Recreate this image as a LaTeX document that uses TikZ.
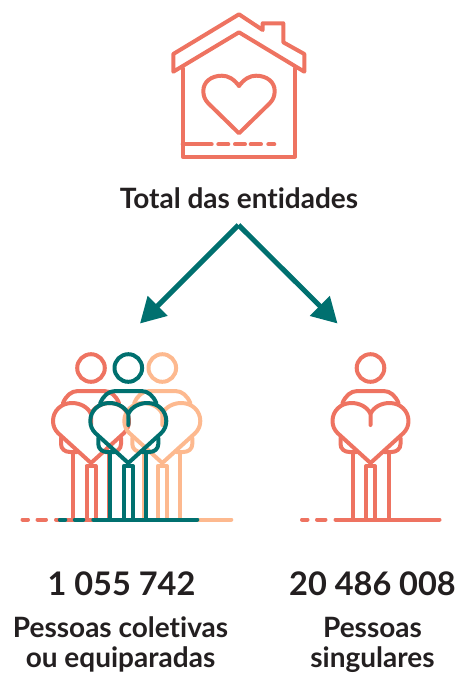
\documentclass[tikz,border=0pt]{standalone}
\usepackage{fontspec}
\setmainfont{Lato}[Ligatures=NoCommon]
\usetikzlibrary{arrows.meta}
\definecolor{salmon}{HTML}{EE7361}
\definecolor{tealdark}{HTML}{00706F}
\definecolor{peach}{HTML}{FDB98F}
\definecolor{inktext}{HTML}{231F20}
\tikzset{
	heartline/.style={line width=4pt,line cap=round,line join=round},
	bigtext/.style={text=inktext,font=\fontsize{32.5}{32.5}\selectfont\bfseries,inner sep=0pt},
	smalltext/.style={text=inktext,font=\fontsize{28}{30}\selectfont\bfseries,inner sep=0pt,align=center},
	arrowline/.style={draw=tealdark,line width=5pt,line cap=square,-{Triangle[length=25pt,width=27pt]}},
	person/.pic={
		\draw[heartline] (0,368) circle[radius=13.8];
		% shoulders
		\draw[heartline] (-28,403) .. controls (-25,396) and (-20,391) .. (-13,391) -- (13,391) .. controls (20,391) and (25,396) .. (28,403);
		% heart
		\draw[heartline] (0,425) -- (0,414) .. controls (-3,407) and (-11,403) .. (-19,403) .. controls (-30,403) and (-38,411) .. (-38,421) .. controls (-38,426) and (-36,430) .. (-33,433) -- (0,463) -- (33,433) .. controls (36,430) and (38,426) .. (38,421) .. controls (38,411) and (30,403) .. (19,403) .. controls (11,403) and (3,407) .. (0,414);
		% hands
		\draw[heartline] (-30,438) -- (-30,444) .. controls (-30,449) and (-26,452) .. (-21,452) -- (-14,452);
		\draw[heartline] (30,438) -- (30,444) .. controls (30,449) and (26,452) .. (21,452) -- (14,452);
		% legs
		\draw[heartline] (-18,452) -- (-18,519.5);
		\draw[heartline] (18,452) -- (18,519.5);
		\draw[heartline] (-4.5,519.5) -- (-4.5,466) -- (4.5,466) -- (4.5,519.5);
		% ground
		\draw[heartline] (-68.5,519.5) -- (-63,519.5);
		\draw[heartline] (-53.5,519.5) -- (-45,519.5);
		\draw[heartline] (-35,519.5) -- (69,519.5);
	}
}
\begin{document}
\begin{tikzpicture}[x=1pt,y=-1pt]
	\useasboundingbox (0,0) rectangle (461,673);
	% house
	\begin{scope}[heartline,draw=salmon]
	\draw (239,14.3) -- (173.3,54) -- (173.3,71.7) -- (239,32.3) -- (304.3,71.7) -- (304.3,54) -- (283.3,42.3) -- (283.3,23.3) -- (262.7,23.3) -- (262.7,30) -- cycle;
	\draw (182.7,68.3) -- (182.7,156.7) -- (295,156.7) -- (295,68.3);
	\draw (239,86) .. controls (234,79) and (228,75.7) .. (222,75.7) .. controls (211,75.7) and (203.3,82) .. (203.3,91) .. controls (203.3,96) and (205,100) .. (208.3,103.3) -- (239,133.3) -- (269.7,103.3) .. controls (273,100) and (274.7,96) .. (274.7,91) .. controls (274.7,82) and (267,75.7) .. (256,75.7) .. controls (250,75.7) and (244,79) .. (239,86);
	\draw (182.7,144.3) -- (211.7,144.3);
	\draw (218.3,144.3) -- (228.3,144.3);
	\draw (235,144.3) -- (245,144.3);
	\draw (250.7,144.3) -- (261,144.3);
	\draw (268.3,144.3) -- (274.3,144.3);
	\end{scope}
	\node[smalltext] (total) at (239,198) {Total das entidades};
	% arrows
	\coordinate (apex) at (238.5,225);
	\coordinate (leftend) at (140,323.5);
	\coordinate (rightend) at (337.5,323.5);
	\draw[arrowline] (apex) -- (leftend);
	\draw[arrowline] (apex) -- (rightend);
	% people
	\pic[salmon] at (91,0) {person};
	\pic[peach] at (162.3,0) {person};
	\pic[tealdark] at (128.3,0) {person};
	\pic[salmon] at (370.5,0) {person};
	% figures
	\node[bigtext] (numcol) at (121.5,584) {1 055 742};
	\node[bigtext] (numsing) at (372.5,584) {20 486 008};
	\node[smalltext,anchor=base] (labcol) at (120.5,637) {Pessoas coletivas};
	\node[smalltext,anchor=base] (labcolb) at (120.5,667) {ou equiparadas};
	\node[smalltext,anchor=base] (labsing) at (372.5,637) {Pessoas};
	\node[smalltext,anchor=base] (labsingb) at (372.5,667) {singulares};
\end{tikzpicture}
\end{document}
